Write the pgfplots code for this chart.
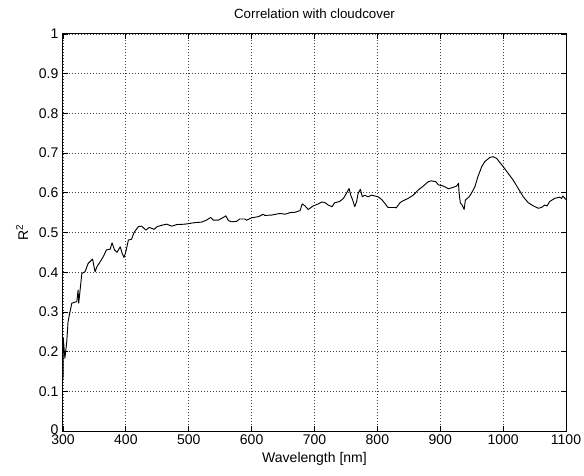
\documentclass[border=0pt]{standalone}
\usepackage{pgfplots}
\pgfplotsset{compat=1.18}
\usepackage{fontspec}
\setmainfont{Liberation Sans}
\begin{document}
\begin{tikzpicture}[x=1pt,y=1pt]
\begin{axis}[
  at={(0,0)}, anchor=south west,
  scale only axis,
  width=377.25pt, height=297.75pt,
  xmin=300, xmax=1100, ymin=0, ymax=1,
  xtick={300,400,...,1100},
  xticklabels={300,400,500,600,700,800,900,1000,1100},
  ytick={0,0.1,...,1.01},
  yticklabels={\raisebox{2.2pt}{0},0.1,0.2,0.3,0.4,0.5,0.6,0.7,0.8,0.9,1},
  tick align=inside,
  major tick length=3.75pt,
  tick style={black, line width=0.6pt},
  axis line style={black, line width=0.75pt},
  grid=major,
  grid style={black!75, line width=0.6pt, dash pattern=on 0.75pt off 1.5pt},
  /pgf/number format/assume math mode=true,
  tick label style={font=\fontsize{10.5}{12}\selectfont},
  xticklabel style={yshift=-0.5pt, inner ysep=2pt},
  yticklabel style={inner ysep=0.5pt},
  label style={font=\fontsize{10.5}{12}\selectfont},
  title style={font=\fontsize{10.5}{12}\selectfont},
  title={Correlation with cloudcover},
  every axis title/.style={at={(axis description cs:0.5,1.05)}, anchor=center},
  xlabel={Wavelength [nm]},
  xlabel style={at={(axis description cs:0.5,-0.0705)}, anchor=center},
  ylabel={R$^{\mathrm{2}}$},
  ylabel style={at={(axis description cs:-0.0815,0.5)}, anchor=center, rotate=0},
]
\addplot[black, line width=0.7pt, line join=round] coordinates {
(300,0.128) (300.5,0.233) (303,0.183) (306,0.225) (308,0.275) (314,0.322)
(322,0.326) (324,0.355) (325,0.322) (330,0.397) (335,0.401) (340,0.422)
(347,0.433) (351,0.401) (354,0.414) (359,0.426) (364,0.439) (369,0.456)
(375,0.458) (378,0.474) (382,0.456) (386,0.450) (391,0.464) (394,0.448)
(397,0.437) (400,0.452) (404,0.481) (409,0.483) (413,0.500) (420,0.515)
(425,0.516) (432,0.506) (437,0.513) (445,0.508) (450,0.515) (459,0.519)
(465,0.521) (473,0.516) (481,0.520) (494,0.521) (510,0.525) (520,0.526)
(528,0.531) (535,0.538) (539,0.531) (547,0.531) (555,0.538) (559,0.542)
(563,0.530) (568,0.527) (576,0.528) (581,0.534) (589,0.534) (592,0.531)
(600,0.537) (611,0.540) (618.5,0.546) (621,0.543) (632,0.544) (645,0.548)
(653,0.546) (661,0.550) (669,0.551) (677,0.555) (680.5,0.572) (685,0.567)
(690,0.558) (698,0.567) (706,0.572) (712,0.577) (717,0.575) (722,0.569)
(728,0.565) (732,0.575) (740,0.578) (746,0.586) (751,0.599) (755,0.611)
(758,0.592) (760.5,0.583) (764,0.565) (767,0.578) (769.5,0.599) (773,0.609)
(776,0.590) (780,0.594) (785,0.590) (791,0.594) (796,0.592) (801,0.590)
(807,0.583) (812,0.573) (817,0.563) (828,0.563) (830,0.562) (836,0.575)
(841,0.580) (849,0.586) (857,0.594) (865,0.607) (873,0.617) (881,0.628)
(886,0.630) (893,0.628) (897,0.620) (905,0.617) (913,0.610) (921,0.614)
(926,0.617) (929,0.624) (930,0.599) (932,0.574) (935,0.569) (938,0.558)
(940,0.582) (946,0.590) (950,0.600) (955,0.615) (960,0.641) (966,0.666)
(971,0.679) (979,0.689) (984,0.691) (989.5,0.687) (995,0.676) (1000,0.666)
(1008,0.649) (1016,0.632) (1024,0.611) (1032,0.590) (1040,0.575) (1048,0.567)
(1056,0.561) (1061,0.563) (1066,0.569) (1070,0.567) (1074,0.578) (1082,0.586)
(1090,0.589) (1093,0.586) (1095,0.592) (1100,0.583)
};
\end{axis}
\pgfresetboundingbox
\path[use as bounding box] (-47.25pt,-33pt) rectangle (390.75pt,323.25pt);
\end{tikzpicture}
\end{document}
